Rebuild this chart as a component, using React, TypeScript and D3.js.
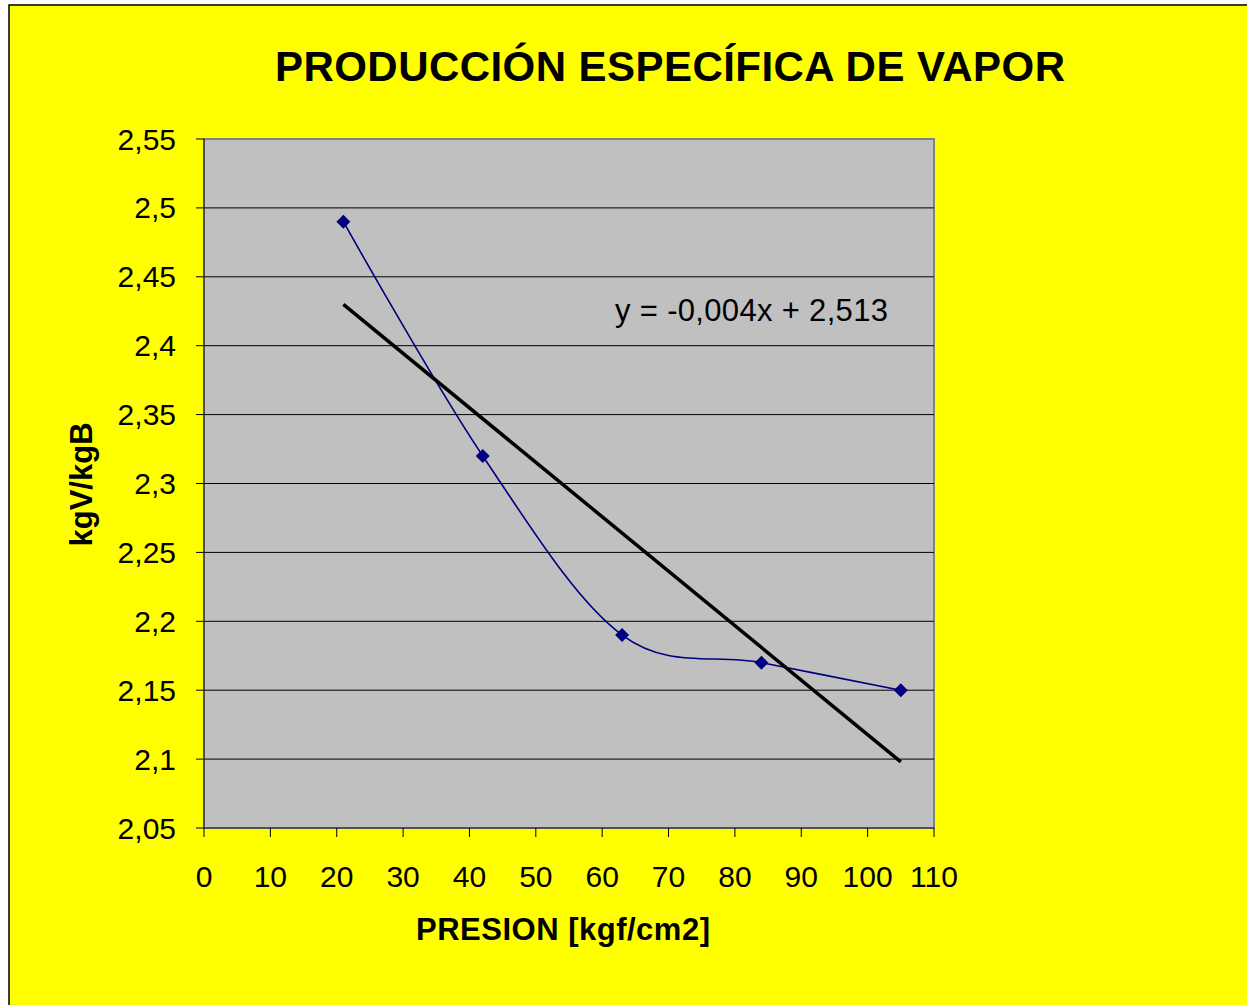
import React from "react";
import * as d3 from "d3";

const presion = [21, 42, 63, 84, 105];
const produccion = [2.49, 2.32, 2.19, 2.17, 2.15];
const trendSlope = -0.004;
const trendIntercept = 2.513;
const xTicks = [0, 10, 20, 30, 40, 50, 60, 70, 80, 90, 100, 110];
const yTicks = [2.05, 2.1, 2.15, 2.2, 2.25, 2.3, 2.35, 2.4, 2.45, 2.5, 2.55];
const titleText = "PRODUCCIÓN ESPECÍFICA DE VAPOR";
const xTitle = "PRESION [kgf/cm2]";
const yTitle = "kgV/kgB";
const eqText = "y = -0,004x + 2,513";

export default function App() {
  const W = 1247, H = 1005;
  const left = 204, right = 934, top = 139, bottom = 828;
  const x = d3.scaleLinear().domain([0, 110]).range([left, right]);
  const y = d3.scaleLinear().domain([2.05, 2.55]).range([bottom, top]);
  const fmt = (v: number) => String(+v.toFixed(2)).replace(".", ",");

  const mx = d3.mean(presion)!;
  const my = d3.mean(produccion)!;
  let num = 0, den = 0;
  presion.forEach((xv, i) => { num += (xv - mx) * (produccion[i] - my); den += (xv - mx) ** 2; });
  const slope = den ? num / den : trendSlope;
  const intercept = den ? my - slope * mx : trendIntercept;
  const x0 = presion[0], x1 = presion[presion.length - 1];

  const pts: [number, number][] = presion.map((p, i) => [x(p), y(produccion[i])]);
  const line = d3.line().curve(d3.curveCardinal.tension(0));
  const font = "Liberation Sans, Arial, sans-serif";
  const diamond = 7;

  return (
    <svg width={W} height={H} style={{ position: "absolute", left: 0, top: 0, background: "#fff" }}>
      <rect x={9} y={5} width={W} height={H} fill="#ffff00" stroke="#000" strokeWidth={1.5} />
      <text x={670} y={81} textAnchor="middle" fontFamily={font} fontWeight="bold" fontSize={42} textLength={790} lengthAdjust="spacing">{titleText}</text>
      <rect x={left} y={top} width={right - left} height={bottom - top} fill="#c0c0c0" stroke="#808080" strokeWidth={2} />
      {yTicks.filter(t => t > 2.06 && t < 2.54).map(t => (
        <line key={"g" + t} x1={left} x2={right} y1={y(t)} y2={y(t)} stroke="#000" strokeWidth={1} />
      ))}
      <line x1={left} x2={left} y1={top} y2={bottom} stroke="#404040" strokeWidth={1.5} />
      <line x1={left} x2={right} y1={bottom} y2={bottom} stroke="#404040" strokeWidth={1.5} />
      {yTicks.map(t => (
        <g key={"y" + t}>
          <line x1={left - 8} x2={left} y1={y(t)} y2={y(t)} stroke="#000" strokeWidth={1} />
          <text x={176} y={y(t) + 10.5} textAnchor="end" fontFamily={font} fontSize={30}>{fmt(t)}</text>
        </g>
      ))}
      {xTicks.map(t => (
        <g key={"x" + t}>
          <line x1={x(t)} x2={x(t)} y1={bottom} y2={bottom + 9} stroke="#000" strokeWidth={1} />
          <text x={x(t)} y={887} textAnchor="middle" fontFamily={font} fontSize={30}>{t}</text>
        </g>
      ))}
      <text x={563} y={940} textAnchor="middle" fontFamily={font} fontWeight="bold" fontSize={31} textLength={294} lengthAdjust="spacing">{xTitle}</text>
      <text transform={`translate(92,${484.5}) rotate(-90)`} textAnchor="middle" fontFamily={font} fontWeight="bold" fontSize={31}>{yTitle}</text>
      <path d={line(pts) || ""} fill="none" stroke="#000080" strokeWidth={1.6} />
      {pts.map(([px, py], i) => (
        <path key={"m" + i} d={`M${px},${py - diamond}L${px + diamond},${py}L${px},${py + diamond}L${px - diamond},${py}Z`} fill="#000080" />
      ))}
      <line x1={x(x0)} y1={y(slope * x0 + intercept)} x2={x(x1)} y2={y(slope * x1 + intercept)} stroke="#000" strokeWidth={3.5} />
      <text x={615} y={321} fontFamily={font} fontSize={31} textLength={273} lengthAdjust="spacing">{eqText}</text>
    </svg>
  );
}
